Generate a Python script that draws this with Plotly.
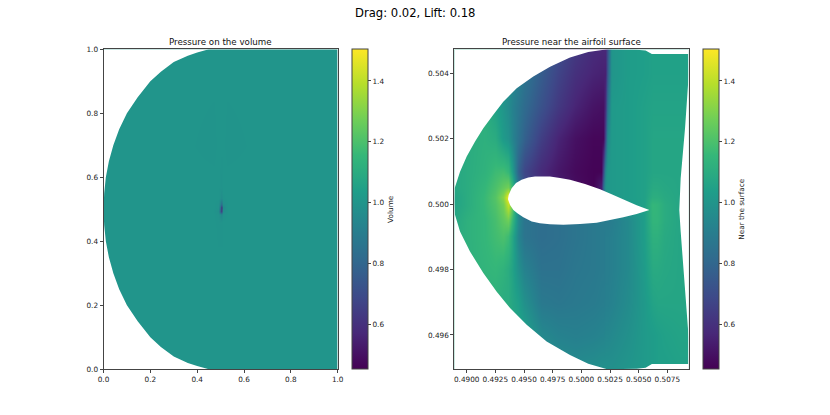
import plotly.graph_objects as go

# ── Left panel: whole volume, almost flat except the spot at the airfoil ──
vol_x = [0.0, 0.30, 0.47, 0.493, 0.498, 0.502, 0.506, 0.53, 0.70, 1.0]
vol_y = [0.0, 0.30, 0.46, 0.485, 0.495, 0.505, 0.515, 0.535, 0.57, 0.70, 1.0]
vol_z = [
    [1.00, 1.00, 1.00, 1.00, 1.00, 1.00, 1.00, 1.00, 1.00, 1.00],
    [1.00, 1.00, 1.00, 1.00, 1.00, 1.00, 1.00, 1.00, 1.00, 1.00],
    [1.00, 1.00, 1.00, 0.995, 0.995, 0.995, 1.00, 1.00, 1.00, 1.00],
    [1.00, 1.00, 1.00, 0.99, 0.96, 0.93, 0.99, 1.00, 1.00, 1.00],
    [1.00, 1.00, 1.00, 0.98, 0.72, 0.62, 0.97, 1.00, 1.00, 1.00],
    [1.00, 1.00, 1.00, 0.99, 0.80, 0.55, 0.96, 1.00, 1.00, 1.00],
    [1.00, 1.00, 1.00, 0.99, 0.90, 0.78, 0.98, 1.00, 1.00, 1.00],
    [1.00, 1.00, 1.00, 1.00, 0.98, 0.96, 0.995, 1.00, 1.00, 1.00],
    [1.00, 1.00, 1.00, 1.00, 0.995, 0.99, 1.00, 1.00, 1.00, 1.00],
    [1.00, 1.00, 0.995, 1.00, 1.00, 1.00, 1.00, 0.995, 1.00, 1.00],
    [1.00, 1.00, 1.00, 1.00, 1.00, 1.00, 1.00, 1.00, 1.00, 1.00],
]
vol_edge_x = [0.0, 0.45, 0.40, 0.36, 0.30, 0.245, 0.20, 0.146, 0.10, 0.067, 0.042, 0.023, 0.01, 0.003, 0.0,
              0.003, 0.01, 0.023, 0.042, 0.067, 0.10, 0.146, 0.20, 0.245, 0.30, 0.36, 0.40, 0.45, 0.0, 0.0]
vol_edge_y = [1.0, 1.0, 0.99, 0.98, 0.96, 0.93, 0.90, 0.85, 0.80, 0.75, 0.70, 0.65, 0.60, 0.55, 0.50,
              0.45, 0.40, 0.35, 0.30, 0.25, 0.20, 0.15, 0.10, 0.07, 0.04, 0.02, 0.01, 0.0, 0.0, 1.0]

# ── Right panel: close-up around the airfoil ──
near_x = [0.4889, 0.4900, 0.4915, 0.4925, 0.4932, 0.4936, 0.4940, 0.4945, 0.4950, 0.4965, 0.4980, 0.4995, 0.5010,
          0.5017, 0.5019, 0.5021, 0.5023, 0.5026, 0.5040, 0.5055, 0.5062, 0.5066, 0.5072, 0.5085, 0.5094]
near_y = [0.4950, 0.4960, 0.4970, 0.4980, 0.4990, 0.4995, 0.5000, 0.5002, 0.5005, 0.5010, 0.5020, 0.5030, 0.5040, 0.5047]
near_z = [
    [1.08, 1.08, 1.08, 1.08, 1.08, 1.07, 1.06, 1.05, 1.04, 1.00, 0.97, 0.96, 0.97, 0.98, 0.98, 0.98, 0.98, 0.98, 1.00, 1.02, 1.03, 1.04, 1.04, 1.05, 1.05],
    [1.10, 1.10, 1.10, 1.10, 1.10, 1.09, 1.08, 1.07, 1.05, 0.95, 0.92, 0.91, 0.92, 0.93, 0.93, 0.94, 0.94, 0.95, 0.98, 1.02, 1.03, 1.04, 1.05, 1.06, 1.06],
    [1.12, 1.12, 1.12, 1.12, 1.10, 1.10, 1.07, 1.04, 0.98, 0.88, 0.87, 0.88, 0.89, 0.90, 0.90, 0.91, 0.91, 0.92, 0.96, 1.02, 1.06, 1.07, 1.07, 1.07, 1.07],
    [1.12, 1.12, 1.14, 1.15, 1.13, 1.10, 1.06, 0.98, 0.92, 0.85, 0.85, 0.87, 0.88, 0.89, 0.89, 0.90, 0.90, 0.91, 0.95, 1.03, 1.09, 1.09, 1.08, 1.07, 1.07],
    [1.10, 1.12, 1.15, 1.18, 1.20, 1.17, 1.08, 0.93, 0.86, 0.83, 0.84, 0.86, 0.88, 0.89, 0.89, 0.90, 0.90, 0.91, 0.95, 1.04, 1.12, 1.12, 1.09, 1.07, 1.07],
    [1.08, 1.12, 1.15, 1.19, 1.24, 1.27, 1.15, 0.95, 0.86, 0.83, 0.84, 0.86, 0.88, 0.89, 0.89, 0.89, 0.89, 0.90, 0.95, 1.04, 1.14, 1.14, 1.10, 1.07, 1.07],
    [1.06, 1.10, 1.16, 1.21, 1.28, 1.42, 1.25, 0.90, 0.80, 0.70, 0.70, 0.70, 0.70, 0.70, 0.80, 0.90, 0.95, 1.00, 1.02, 1.05, 1.15, 1.14, 1.10, 1.07, 1.07],
    [1.06, 1.10, 1.16, 1.22, 1.32, 1.50, 1.20, 0.85, 0.70, 0.60, 0.55, 0.50, 0.48, 0.48, 0.70, 0.95, 1.00, 1.02, 1.03, 1.05, 1.11, 1.11, 1.09, 1.07, 1.07],
    [1.08, 1.10, 1.15, 1.20, 1.25, 1.28, 1.15, 0.85, 0.70, 0.60, 0.54, 0.49, 0.46, 0.55, 0.85, 1.00, 1.01, 1.02, 1.03, 1.05, 1.09, 1.09, 1.08, 1.07, 1.07],
    [1.08, 1.10, 1.13, 1.17, 1.18, 1.15, 1.03, 0.78, 0.68, 0.58, 0.52, 0.48, 0.46, 0.46, 0.70, 0.95, 1.01, 1.02, 1.03, 1.05, 1.07, 1.07, 1.07, 1.07, 1.07],
    [1.08, 1.10, 1.12, 1.10, 1.02, 0.99, 0.93, 0.85, 0.78, 0.65, 0.56, 0.50, 0.47, 0.47, 0.47, 0.70, 0.95, 1.02, 1.03, 1.05, 1.07, 1.07, 1.07, 1.07, 1.07],
    [1.08, 1.10, 1.12, 1.05, 1.00, 0.96, 0.92, 0.87, 0.82, 0.72, 0.63, 0.56, 0.51, 0.50, 0.50, 0.60, 0.85, 1.02, 1.03, 1.05, 1.06, 1.06, 1.06, 1.06, 1.06],
    [1.08, 1.10, 1.10, 1.05, 1.00, 0.98, 0.95, 0.91, 0.86, 0.76, 0.67, 0.60, 0.56, 0.55, 0.55, 0.55, 0.75, 1.00, 1.03, 1.04, 1.05, 1.05, 1.05, 1.05, 1.05],
    [1.08, 1.10, 1.10, 1.05, 1.00, 0.98, 0.95, 0.92, 0.88, 0.80, 0.70, 0.63, 0.58, 0.57, 0.57, 0.57, 0.72, 1.00, 1.03, 1.04, 1.05, 1.05, 1.05, 1.05, 1.05],
]

# Outline of the meshed zone, from the nose round the top to the back and bottom
zone_x = [0.48892, 0.48895, 0.48942, 0.49000, 0.49073, 0.49145, 0.49232, 0.49319, 0.49436, 0.49581, 0.49727, 0.49901,
          0.50060, 0.50226, 0.50483, 0.50560, 0.50615, 0.50936, 0.50936, 0.50904, 0.50866, 0.50854, 0.50866, 0.50904,
          0.50936, 0.50936, 0.50615, 0.50560, 0.50483, 0.50226, 0.50060, 0.49901, 0.49697, 0.49523, 0.49378, 0.49262,
          0.49145, 0.49029, 0.48942, 0.48898, 0.48892]
zone_y = [0.50004, 0.50048, 0.50099, 0.50145, 0.50191, 0.50232, 0.50273, 0.50313, 0.50354, 0.50390, 0.50420, 0.50448,
          0.50465, 0.50473, 0.50472, 0.50469, 0.50459, 0.50459, 0.50395, 0.50232, 0.50079, 0.49982, 0.49916, 0.49753,
          0.49590, 0.49511, 0.49511, 0.49500, 0.49497, 0.49495, 0.49512, 0.49539, 0.49580, 0.49631, 0.49682, 0.49732,
          0.49789, 0.49855, 0.49916, 0.49967, 0.50004]
airfoil_x = [0.49360, 0.49366, 0.49392, 0.49430, 0.49479, 0.49537, 0.49596, 0.49668, 0.49726, 0.49814, 0.49901, 0.50032,
             0.50163, 0.50264, 0.50366, 0.50482, 0.50593, 0.50482, 0.50366, 0.50250, 0.50133, 0.49988, 0.49843, 0.49726,
             0.49639, 0.49567, 0.49494, 0.49442, 0.49407, 0.49378, 0.49360]
airfoil_y = [0.50015, 0.50028, 0.50048, 0.50064, 0.50074, 0.50081, 0.50084, 0.50085, 0.50084, 0.50080, 0.50074, 0.50061,
             0.50045, 0.50030, 0.50013, 0.49996, 0.49982, 0.49970, 0.49960, 0.49951, 0.49943, 0.49939, 0.49937, 0.49938,
             0.49941, 0.49947, 0.49960, 0.49972, 0.49982, 0.49997, 0.50015]

VOL_RANGE_X = [0.0, 1.0]
VOL_RANGE_Y = [0.0, 1.0]
NEAR_RANGE_X = [0.48892, 0.50936]
NEAR_RANGE_Y = [0.49495, 0.50473]
Z_MIN, Z_MAX = 0.453, 1.504
CBAR_TICKS = [0.6, 0.8, 1.0, 1.2, 1.4]
FONT = 'DejaVu Sans'
W, H = 830, 415
SPINE = '#444444'
TEXT = '#222222'
AX_TOP, AX_BOT = 49.3, 369.3
# margins big enough that the colorbars never push them
ML, MR, MT, MB = 60, 60, 30, 30
PW, PH = W - ML - MR, H - MT - MB


def fx(px):
    return (px - ML) / PW


def fy(py):
    return 1 - (py - MT) / PH


def colorbar(title, left_px):
    return dict(
        title=dict(text=title, side='right', font=dict(size=7.3, family=FONT, color=TEXT)),
        x=fx(left_px), xanchor='left', xpad=0,
        y=fy(AX_BOT), yanchor='bottom', ypad=0,
        len=(AX_BOT - AX_TOP) / PH, lenmode='fraction',
        thickness=16, thicknessmode='pixels',
        tickvals=CBAR_TICKS, tickformat='.1f', ticks='outside', ticklen=3, tickwidth=0.8, tickcolor=SPINE,
        tickfont=dict(size=7.3, family=FONT, color=TEXT),
        outlinecolor=SPINE, outlinewidth=1,
    )


def mask_path(x_range, y_range, edge_x, edge_y):
    # keyhole polygon: plot frame run the other way round, then the outline of the zone
    x0, x1 = x_range
    y0, y1 = y_range
    xs = [x0, x0, x1, x1, x0, x0] + edge_x + [x0]
    ys = [edge_y[0], y0, y0, y1, y1, edge_y[0]] + edge_y + [edge_y[0]]
    return xs, ys


fig = go.Figure()

fig.add_trace(go.Heatmap(x=vol_x, y=vol_y, z=vol_z, zsmooth='best', colorscale='Viridis',
                         zmin=Z_MIN, zmax=Z_MAX, colorbar=colorbar('Volume', 352), xaxis='x', yaxis='y'))
fig.add_trace(go.Heatmap(x=near_x, y=near_y, z=near_z, zsmooth='best', colorscale='Viridis',
                         zmin=Z_MIN, zmax=Z_MAX, colorbar=colorbar('Near the surface', 703.3), xaxis='x2', yaxis='y2'))

# white out everything outside the mesh
fig.add_trace(go.Scatter(x=vol_edge_x, y=vol_edge_y, mode='lines', fill='toself', fillcolor='white',
                         line=dict(width=0), showlegend=False, hoverinfo='skip', xaxis='x', yaxis='y'))
nm_x, nm_y = mask_path(NEAR_RANGE_X, NEAR_RANGE_Y, zone_x, zone_y)
fig.add_trace(go.Scatter(x=nm_x, y=nm_y, mode='lines', fill='toself', fillcolor='white',
                         line=dict(width=0), showlegend=False, hoverinfo='skip', xaxis='x2', yaxis='y2'))
fig.add_trace(go.Scatter(x=airfoil_x, y=airfoil_y, mode='lines', fill='toself', fillcolor='white',
                         line=dict(width=0), showlegend=False, hoverinfo='skip', xaxis='x2', yaxis='y2'))

axis_style = dict(showgrid=False, zeroline=False, showline=True, mirror=True, linecolor=SPINE, linewidth=1,
                  ticks='outside', ticklen=3, tickwidth=0.8, tickcolor=SPINE, tickangle=0,
                  tickfont=dict(size=7.3, family=FONT, color=TEXT))
y_domain = [fy(AX_BOT), fy(AX_TOP)]

fig.update_layout(
    width=W, height=H,
    margin=dict(l=ML, r=MR, t=MT, b=MB),
    paper_bgcolor='white', plot_bgcolor='white',
    showlegend=False,
    xaxis=dict(domain=[fx(103.5), fx(337.7)], range=VOL_RANGE_X, tickvals=[0, 0.2, 0.4, 0.6, 0.8, 1.0],
               tickformat='.1f', anchor='y', **axis_style),
    yaxis=dict(domain=y_domain, range=VOL_RANGE_Y, tickvals=[0, 0.2, 0.4, 0.6, 0.8, 1.0],
               tickformat='.1f', anchor='x', **axis_style),
    xaxis2=dict(domain=[fx(454.3), fx(688.7)], range=NEAR_RANGE_X,
                tickvals=[0.49, 0.4925, 0.495, 0.4975, 0.5, 0.5025, 0.505, 0.5075],
                tickformat='.4f', anchor='y2', **axis_style),
    yaxis2=dict(domain=y_domain, range=NEAR_RANGE_Y, tickvals=[0.496, 0.498, 0.5, 0.502, 0.504],
                tickformat='.3f', anchor='x2', **axis_style),
    annotations=[
        dict(text='Drag: 0.02, Lift: 0.18', x=fx(415), y=fy(13.3), xref='paper', yref='paper',
             xanchor='center', yanchor='middle', showarrow=False, font=dict(size=11.6, family=FONT, color='black')),
        dict(text='Pressure on the volume', x=fx(220.6), y=fy(42.5), xref='paper', yref='paper',
             xanchor='center', yanchor='middle', showarrow=False, font=dict(size=8.7, family=FONT, color='#111')),
        dict(text='Pressure near the airfoil surface', x=fx(571.5), y=fy(42.5), xref='paper', yref='paper',
             xanchor='center', yanchor='middle', showarrow=False, font=dict(size=8.7, family=FONT, color='#111')),
    ],
)

# the page body's default 8px margin would shift the whole figure
fig.write_html("out.html", config=dict(displayModeBar=False), post_script="document.body.style.margin = '0';")
